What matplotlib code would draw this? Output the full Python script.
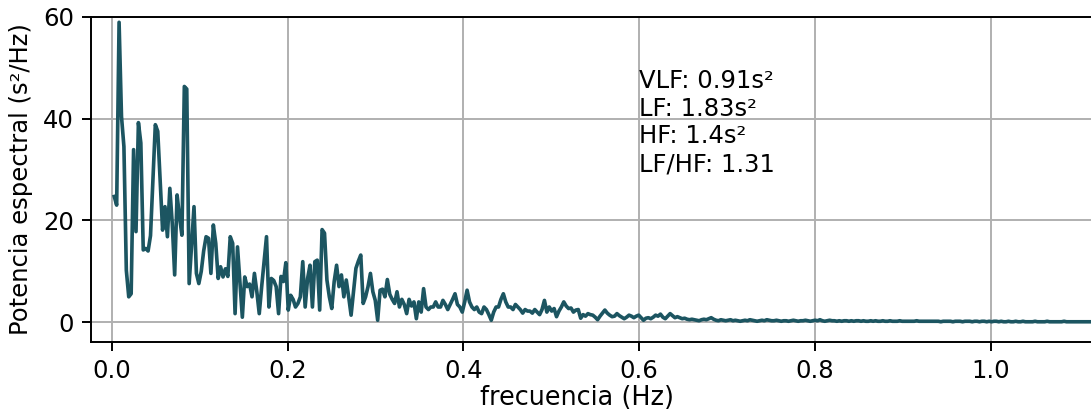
import numpy as np
import matplotlib
matplotlib.use("Agg")
import matplotlib.pyplot as plt

# spectral power, one value per frequency bin
df = 0.00275
psd = [
    24.7, 23.0, 58.9, 40.4, 34.5, 10.2, 5.0, 5.6, 33.9, 17.8,
    39.2, 35.2, 14.2, 14.5, 14.0, 17.0, 28.0, 38.8, 37.5, 28.0,
    18.1, 22.7, 16.8, 26.3, 19.4, 9.3, 25.0, 20.7, 17.1, 46.3,
    45.8, 7.6, 15.0, 22.7, 9.6, 7.6, 10.0, 14.0, 16.8, 16.5,
    9.6, 19.1, 15.5, 8.6, 10.9, 8.9, 10.5, 9.0, 16.8, 15.5,
    1.7, 14.8, 8.0, 1.0, 8.9, 7.0, 7.5, 5.0, 9.6, 6.0,
    1.7, 7.0, 12.0, 16.8, 3.0, 8.6, 8.2, 7.0, 1.7, 9.0,
    8.0, 11.7, 2.4, 5.3, 4.5, 3.0, 3.7, 5.0, 11.9, 3.0,
    8.6, 11.2, 3.0, 11.9, 12.2, 2.4, 18.2, 17.5, 8.3, 5.0,
    2.7, 8.0, 11.2, 7.0, 9.3, 5.0, 8.3, 5.0, 1.4, 6.0,
    10.6, 12.0, 13.2, 3.7, 5.0, 7.0, 9.6, 6.0, 4.3, 0.4,
    6.3, 6.5, 5.0, 8.4, 5.5, 4.5, 3.7, 6.0, 3.0, 4.5,
    3.5, 1.7, 4.5, 3.2, 4.0, 0.7, 4.0, 2.0, 6.6, 3.0,
    2.5, 3.0, 3.0, 4.0, 3.0, 3.0, 4.3, 3.5, 2.5, 3.5,
    4.5, 5.6, 3.5, 3.0, 2.0, 4.0, 6.3, 4.0, 3.0, 2.5,
    3.0, 2.0, 1.7, 3.0, 2.5, 1.5, 0.4, 2.0, 3.0, 3.0,
    4.5, 5.6, 4.0, 3.0, 3.0, 2.5, 3.5, 3.0, 2.5, 1.8,
    2.5, 2.2, 2.2, 1.8, 2.5, 2.0, 1.5, 2.5, 4.3, 2.0,
    3.0, 2.2, 2.7, 1.1, 2.2, 3.0, 4.0, 3.2, 2.7, 2.8,
    2.0, 2.4, 2.5, 0.8, 1.5, 1.2, 1.7, 1.5, 1.4, 1.0,
    0.5, 1.2, 1.8, 2.4, 1.8, 1.4, 1.1, 1.2, 1.7, 1.3,
    1.0, 0.7, 1.0, 1.4, 1.2, 0.9, 1.2, 1.4, 0.9, 0.4,
    0.8, 0.9, 0.7, 1.0, 1.4, 1.2, 1.6, 1.0, 0.7, 1.2,
    1.7, 1.3, 0.9, 1.1, 0.9, 0.7, 0.8, 0.6, 0.5, 0.6,
    0.5, 0.4, 0.3, 0.5, 0.6, 0.5, 0.7, 0.9, 0.6, 0.4,
    0.3, 0.5, 0.4, 0.3, 0.4, 0.5, 0.3, 0.4, 0.3, 0.2,
    0.3, 0.4, 0.3, 0.5, 0.4, 0.3, 0.2, 0.3, 0.4, 0.3,
    0.5, 0.4, 0.3, 0.3, 0.4, 0.3, 0.2, 0.3, 0.3, 0.2,
    0.3, 0.4, 0.3, 0.2, 0.3, 0.3, 0.4, 0.3, 0.2, 0.3,
    0.4, 0.3, 0.5, 0.3, 0.2, 0.3, 0.4, 0.3, 0.3, 0.2,
    0.3, 0.2, 0.3, 0.3, 0.2, 0.3, 0.2, 0.3, 0.3, 0.2,
    0.3, 0.2, 0.2, 0.3, 0.2, 0.3, 0.2, 0.2, 0.3, 0.2,
    0.2, 0.3, 0.2, 0.2, 0.2, 0.3, 0.2, 0.2, 0.2, 0.2,
    0.2, 0.2, 0.3, 0.2, 0.2, 0.2, 0.2, 0.2, 0.2, 0.2,
    0.2, 0.2, 0.1, 0.2, 0.2, 0.2, 0.2, 0.1, 0.2, 0.2,
    0.2, 0.1, 0.2, 0.2, 0.2, 0.1, 0.2, 0.2, 0.1, 0.2,
    0.2, 0.1, 0.2, 0.1, 0.2, 0.2, 0.1, 0.2, 0.1, 0.1,
    0.2, 0.1, 0.1, 0.2, 0.1, 0.1, 0.2, 0.1, 0.1, 0.1,
    0.1, 0.2, 0.1, 0.1, 0.1, 0.1, 0.2, 0.1, 0.1, 0.1,
    0.1, 0.1, 0.1, 0.2, 0.1, 0.1, 0.1, 0.1, 0.1, 0.1,
    0.1, 0.1, 0.1, 0.1, 0.1, 0.1, 0.1, 0.1, 0.1, 0.1,
    0.1, 0.1, 0.1, 0.1, 0.1,
]
freq = np.arange(1, len(psd) + 1) * df

# band powers shown in the text box
vlf, lf, hf, ratio = 0.91, 1.83, 1.4, 1.31

fig = plt.figure(figsize=(1091 / 175, 416 / 175), dpi=175)
ax = fig.add_axes([91 / 1091, 73.7 / 416, 0.9366, 0.7827])

ax.plot(freq, psd, color="#1c5561", linewidth=1.5)
ax.grid(True)
ax.set_xlim(-0.0237, 1.139)
ax.set_ylim(-3.93, 60)
ax.set_xlabel("frecuencia (Hz)", fontsize=10.5)
ax.xaxis.set_label_coords(0.4756, -0.13)
ax.set_ylabel("Potencia espectral (s²/Hz)")

ax.text(0.6, 28.7,
        f"VLF: {vlf}s²\nLF: {lf}s²\nHF: {hf}s²\nLF/HF: {ratio}",
        va="bottom", ha="left")

fig.savefig("out.png", dpi=175)
